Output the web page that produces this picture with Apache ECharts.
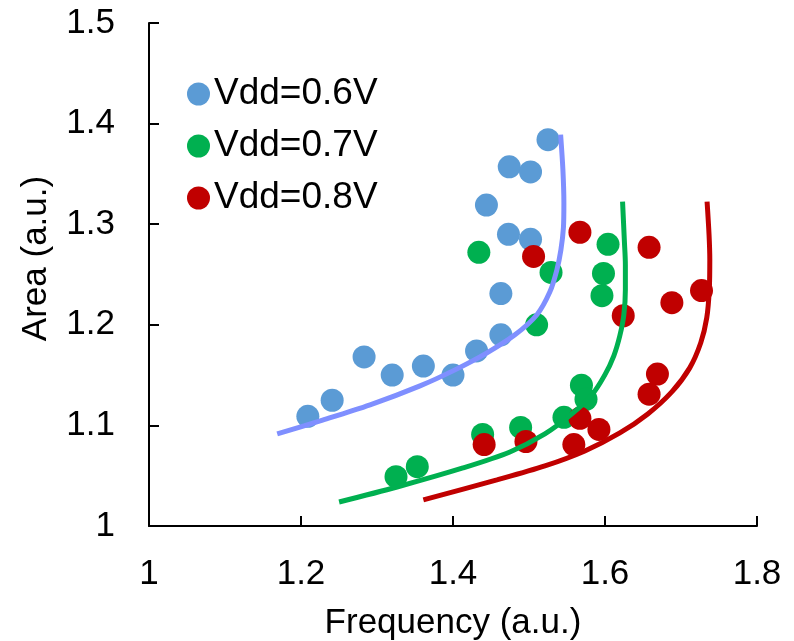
<!DOCTYPE html>
<html>
<head>
<meta charset="utf-8">
<script src="https://cdn.jsdelivr.net/npm/echarts@6/dist/echarts.min.js"></script>
<style>
  html, body { margin: 0; padding: 0; background: #fff; }
  #chart { width: 794px; height: 641px; }
</style>
</head>
<body>
<div id="chart"></div>
<script>
// Measured points: frequency (x) and area (y), normalised units
var seriesNames = ['Vdd=0.6V', 'Vdd=0.7V', 'Vdd=0.8V'];

var freq06 = [1.209, 1.241, 1.283, 1.320, 1.361, 1.400, 1.431, 1.463, 1.463, 1.473, 1.502, 1.444, 1.474, 1.502, 1.525];
var area06 = [1.109, 1.125, 1.168, 1.150, 1.159, 1.150, 1.174, 1.190, 1.231, 1.290, 1.285, 1.319, 1.357, 1.352, 1.384];

var freq07 = [1.325, 1.353, 1.439, 1.489, 1.546, 1.569, 1.575, 1.510, 1.529, 1.434, 1.596, 1.598, 1.604];
var area07 = [1.049, 1.059, 1.091, 1.098, 1.108, 1.140, 1.126, 1.200, 1.252, 1.272, 1.229, 1.251, 1.280];

var freq08 = [1.441, 1.496, 1.559, 1.567, 1.592, 1.658, 1.669, 1.624, 1.688, 1.727, 1.506, 1.567, 1.658];
var area08 = [1.081, 1.084, 1.081, 1.107, 1.096, 1.131, 1.151, 1.209, 1.222, 1.234, 1.268, 1.292, 1.277];

// Fitted trend curves, traced along their length
var fitFreq06 = [1.1687, 1.2252, 1.2909, 1.3566, 1.4026, 1.4447, 1.4815, 1.5104, 1.5275, 1.5367, 1.5420, 1.5453, 1.5459, 1.5446, 1.5416];
var fitArea06 = [1.0915, 1.1045, 1.1204, 1.1393, 1.1552, 1.1721, 1.1900, 1.2100, 1.2328, 1.2547, 1.2746, 1.2965, 1.3214, 1.3542, 1.3891];

var fitFreq07 = [1.2501, 1.3264, 1.4131, 1.4749, 1.5209, 1.5564, 1.5827, 1.5998, 1.6116, 1.6195, 1.6248, 1.6268, 1.6268, 1.6254, 1.6231];
var fitArea07 = [1.0239, 1.0388, 1.0577, 1.0736, 1.0915, 1.1114, 1.1303, 1.1502, 1.1692, 1.1891, 1.2100, 1.2348, 1.2597, 1.2846, 1.3224];

var fitFreq08 = [1.3610, 1.4578, 1.5209, 1.5735, 1.6195, 1.6563, 1.6879, 1.7115, 1.7260, 1.7339, 1.7372, 1.7379, 1.7369, 1.7343];
var fitArea08 = [1.0259, 1.0458, 1.0597, 1.0746, 1.0925, 1.1114, 1.1333, 1.1572, 1.1821, 1.2070, 1.2348, 1.2647, 1.2896, 1.3224];

var xTicks = { min: 1, max: 1.8, step: 0.2 };
var yTicks = { min: 1, max: 1.5, step: 0.1 };

function pairs(xs, ys) {
  return xs.map(function (x, i) { return [x, ys[i]]; });
}

var FONT = 'Liberation Sans, Arial, sans-serif';
var dotColors = ['#5B9BD5', '#00B050', '#C00000'];
var lineColors = ['#7F8FFF', '#00B050', '#C00000'];

var dots = [pairs(freq06, area06), pairs(freq07, area07), pairs(freq08, area08)];
var fits = [pairs(fitFreq06, fitArea06), pairs(fitFreq07, fitArea07), pairs(fitFreq08, fitArea08)];

var series = [];
dots.forEach(function (d, i) {
  series.push({
    name: seriesNames[i],
    type: 'scatter',
    data: d,
    symbol: 'circle',
    symbolSize: 23,
    itemStyle: { color: dotColors[i], opacity: 1 },
    z: 2 + i
  });
});
fits.forEach(function (d, i) {
  series.push({
    name: 'fit' + i,
    type: 'line',
    data: d,
    showSymbol: false,
    smooth: 0.3,
    lineStyle: { color: lineColors[i], width: 5 },
    z: 6 + i,
    silent: true
  });
});

var axisLine = { show: true, lineStyle: { color: '#000', width: 2 } };
var axisTick = { show: true, inside: true, length: 10, lineStyle: { color: '#000', width: 2 } };

var chart = echarts.init(document.getElementById('chart'), null, { renderer: 'canvas' });
chart.setOption({
  animation: false,
  backgroundColor: '#fff',
  textStyle: { fontFamily: FONT },
  grid: { left: 149, right: 37, top: 23, bottom: 115, containLabel: false, outerBoundsMode: 'none' },
  legend: {
    data: seriesNames,
    orient: 'vertical',
    left: 182,
    top: 70,
    itemWidth: 23,
    itemHeight: 23,
    itemGap: 14,
    icon: 'circle',
    textStyle: { fontFamily: FONT, fontSize: 37, color: '#000', lineHeight: 38, padding: [0, 0, 0, -1] }
  },
  xAxis: {
    type: 'value',
    min: xTicks.min,
    max: xTicks.max,
    interval: xTicks.step,
    name: 'Frequency (a.u.)',
    nameLocation: 'middle',
    nameGap: 80,
    nameTextStyle: { fontFamily: FONT, fontSize: 35, color: '#000' },
    axisLine: axisLine,
    axisTick: axisTick,
    splitLine: { show: false },
    axisLabel: { fontFamily: FONT, fontSize: 35, color: '#000', margin: 31 }
  },
  yAxis: {
    type: 'value',
    min: yTicks.min,
    max: yTicks.max,
    interval: yTicks.step,
    name: 'Area (a.u.)',
    nameLocation: 'middle',
    nameRotate: 90,
    nameGap: 95,
    nameTextStyle: { fontFamily: FONT, fontSize: 35, color: '#000', padding: [0, 0, 0, 32] },
    axisLine: axisLine,
    axisTick: axisTick,
    splitLine: { show: false },
    axisLabel: { fontFamily: FONT, fontSize: 35, color: '#000', margin: 34 }
  },
  series: series
});
</script>
</body>
</html>
